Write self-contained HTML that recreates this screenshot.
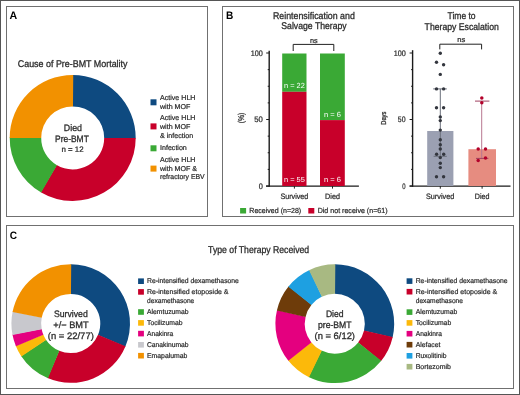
<!DOCTYPE html>
<html><head><meta charset="utf-8"><style>
html,body{margin:0;padding:0;background:#fff;}
body{width:520px;height:395px;overflow:hidden;}
svg{display:block;font-family:"Liberation Sans", sans-serif;will-change:transform;text-rendering:geometricPrecision;}
</style></head><body>
<svg width="520" height="395" viewBox="0 0 520 395">
<rect width="520" height="395" fill="#fff"/>
<rect x="0.5" y="0.5" width="519" height="394" fill="none" stroke="#555" stroke-width="1"/>
<rect x="6.5" y="6.5" width="201" height="210" fill="none" stroke="#707070" stroke-width="1"/>
<rect x="222.5" y="6.5" width="291" height="210" fill="none" stroke="#707070" stroke-width="1"/>
<rect x="6.5" y="225.5" width="507" height="163" fill="none" stroke="#707070" stroke-width="1"/>
<text x="9.60" y="18.80" font-size="10.8" fill="#000" font-weight="bold" textLength="7.70" lengthAdjust="spacingAndGlyphs">A</text>
<text x="226.00" y="19.10" font-size="10.8" fill="#000" font-weight="bold" textLength="7.30" lengthAdjust="spacingAndGlyphs">B</text>
<text x="9.80" y="239.10" font-size="10.8" fill="#000" font-weight="bold" textLength="7.30" lengthAdjust="spacingAndGlyphs">C</text>
<text x="17.75" y="66.50" font-size="9.7" fill="#2b2b2b" font-weight="normal" textLength="109.75" lengthAdjust="spacingAndGlyphs" stroke="#2b2b2b" stroke-width="0.301">Cause of Pre-BMT Mortality</text>
<path d="M72.70,74.90 A63,63 0 0 1 135.70,138.45 L104.20,138.17 A31.5,31.5 0 0 0 72.70,106.40 Z" fill="#0e4a80"/>
<path d="M135.70,137.90 A63,63 0 0 1 40.73,192.18 L56.71,165.04 A31.5,31.5 0 0 0 104.20,137.90 Z" fill="#c8002a"/>
<path d="M41.20,192.46 A63,63 0 0 1 9.70,137.35 L41.20,137.63 A31.5,31.5 0 0 0 56.95,165.18 Z" fill="#3aa935"/>
<path d="M9.70,137.90 A63,63 0 0 1 73.25,74.90 L72.97,106.40 A31.5,31.5 0 0 0 41.20,137.90 Z" fill="#f29100"/>
<text x="63.80" y="130.70" font-size="9.4" fill="#2b2b2b" font-weight="normal" textLength="18.20" lengthAdjust="spacingAndGlyphs" stroke="#2b2b2b" stroke-width="0.291">Died</text>
<text x="55.00" y="141.90" font-size="9.4" fill="#2b2b2b" font-weight="normal" textLength="33.80" lengthAdjust="spacingAndGlyphs" stroke="#2b2b2b" stroke-width="0.291">Pre-BMT</text>
<text x="61.50" y="151.90" font-size="8" fill="#2b2b2b" font-weight="normal" textLength="22.10" lengthAdjust="spacingAndGlyphs" stroke="#2b2b2b" stroke-width="0.248">n = 12</text>
<rect x="150.5" y="99.3" width="6" height="6" fill="#0e4a80"/>
<text x="160.00" y="100.20" font-size="7.1" text-anchor="start" fill="#2b2b2b" font-weight="normal" stroke="#2b2b2b" stroke-width="0.22">Active HLH</text>
<text x="160.00" y="108.70" font-size="7.1" text-anchor="start" fill="#2b2b2b" font-weight="normal" stroke="#2b2b2b" stroke-width="0.22">with MOF</text>
<rect x="150.5" y="123.4" width="6" height="6" fill="#c8002a"/>
<text x="160.00" y="120.30" font-size="7.1" text-anchor="start" fill="#2b2b2b" font-weight="normal" stroke="#2b2b2b" stroke-width="0.22">Active HLH</text>
<text x="160.00" y="129.00" font-size="7.1" text-anchor="start" fill="#2b2b2b" font-weight="normal" stroke="#2b2b2b" stroke-width="0.22">with MOF</text>
<text x="160.00" y="137.60" font-size="7.1" text-anchor="start" fill="#2b2b2b" font-weight="normal" stroke="#2b2b2b" stroke-width="0.22">&amp; infection</text>
<rect x="150.5" y="145.3" width="6" height="6" fill="#3aa935"/>
<text x="160.00" y="150.00" font-size="7.1" text-anchor="start" fill="#2b2b2b" font-weight="normal" stroke="#2b2b2b" stroke-width="0.22">Infection</text>
<rect x="150.5" y="165.6" width="6" height="6" fill="#f29100"/>
<text x="160.00" y="162.00" font-size="7.1" text-anchor="start" fill="#2b2b2b" font-weight="normal" stroke="#2b2b2b" stroke-width="0.22">Active HLH</text>
<text x="160.00" y="170.60" font-size="7.1" text-anchor="start" fill="#2b2b2b" font-weight="normal" stroke="#2b2b2b" stroke-width="0.22">with MOF &amp;</text>
<text x="160.00" y="179.20" font-size="7.1" fill="#2b2b2b" font-weight="normal" textLength="44.70" lengthAdjust="spacingAndGlyphs" stroke="#2b2b2b" stroke-width="0.22">refractory EBV</text>
<text x="273.00" y="18.85" font-size="9.7" fill="#2b2b2b" font-weight="normal" textLength="81.80" lengthAdjust="spacingAndGlyphs" stroke="#2b2b2b" stroke-width="0.301">Reintensification and</text>
<text x="281.30" y="29.30" font-size="9.7" fill="#2b2b2b" font-weight="normal" textLength="65.40" lengthAdjust="spacingAndGlyphs" stroke="#2b2b2b" stroke-width="0.301">Salvage Therapy</text>
<text x="447.50" y="18.90" font-size="9.7" fill="#2b2b2b" font-weight="normal" textLength="28.10" lengthAdjust="spacingAndGlyphs" stroke="#2b2b2b" stroke-width="0.301">Time to</text>
<text x="424.60" y="29.70" font-size="9.7" fill="#2b2b2b" font-weight="normal" textLength="74.20" lengthAdjust="spacingAndGlyphs" stroke="#2b2b2b" stroke-width="0.301">Therapy Escalation</text>
<line x1="269.2" y1="50.8" x2="269.2" y2="186.8" stroke="#1a1a1a" stroke-width="1.4"/>
<line x1="266.2" y1="53.0" x2="269.2" y2="53.0" stroke="#1a1a1a" stroke-width="1"/>
<line x1="267.7" y1="69.625" x2="269.2" y2="69.625" stroke="#1a1a1a" stroke-width="1"/>
<line x1="267.7" y1="86.25" x2="269.2" y2="86.25" stroke="#1a1a1a" stroke-width="1"/>
<line x1="267.7" y1="102.875" x2="269.2" y2="102.875" stroke="#1a1a1a" stroke-width="1"/>
<line x1="266.2" y1="119.5" x2="269.2" y2="119.5" stroke="#1a1a1a" stroke-width="1"/>
<line x1="267.7" y1="136.125" x2="269.2" y2="136.125" stroke="#1a1a1a" stroke-width="1"/>
<line x1="267.7" y1="152.75" x2="269.2" y2="152.75" stroke="#1a1a1a" stroke-width="1"/>
<line x1="267.7" y1="169.375" x2="269.2" y2="169.375" stroke="#1a1a1a" stroke-width="1"/>
<line x1="266.2" y1="186.0" x2="269.2" y2="186.0" stroke="#1a1a1a" stroke-width="1"/>
<line x1="266" y1="186.1" x2="358.9" y2="186.1" stroke="#1a1a1a" stroke-width="1.4"/>
<text x="250.80" y="55.60" font-size="8" fill="#2b2b2b" font-weight="normal" textLength="12.10" lengthAdjust="spacingAndGlyphs" stroke="#2b2b2b" stroke-width="0.248">100</text>
<text x="254.30" y="122.00" font-size="8" fill="#2b2b2b" font-weight="normal" textLength="8.60" lengthAdjust="spacingAndGlyphs" stroke="#2b2b2b" stroke-width="0.248">50</text>
<text x="258.70" y="188.80" font-size="8" fill="#2b2b2b" font-weight="normal" textLength="4.10" lengthAdjust="spacingAndGlyphs" stroke="#2b2b2b" stroke-width="0.248">0</text>
<text transform="translate(244.3,118) rotate(-90)" font-size="8.5" text-anchor="middle" fill="#2b2b2b" stroke="#2b2b2b" stroke-width="0.3" textLength="10.6" lengthAdjust="spacingAndGlyphs">(%)</text>
<rect x="282.2" y="53.5" width="24.3" height="38.3" fill="#3aa935"/>
<rect x="282.2" y="91.8" width="24.3" height="94.2" fill="#c8002a"/>
<rect x="320" y="53.5" width="24.8" height="66.6" fill="#3aa935"/>
<rect x="320" y="120.1" width="24.8" height="65.9" fill="#c8002a"/>
<text x="284.00" y="88.00" font-size="7.4" fill="#fff" font-weight="normal" textLength="20.80" lengthAdjust="spacingAndGlyphs">n = 22</text>
<text x="284.00" y="181.90" font-size="7.4" fill="#fff" font-weight="normal" textLength="20.80" lengthAdjust="spacingAndGlyphs">n = 55</text>
<text x="324.00" y="116.80" font-size="7.4" fill="#fff" font-weight="normal" textLength="17.00" lengthAdjust="spacingAndGlyphs">n = 6</text>
<text x="324.00" y="181.90" font-size="7.4" fill="#fff" font-weight="normal" textLength="17.00" lengthAdjust="spacingAndGlyphs">n = 6</text>
<line x1="294.4" y1="186" x2="294.4" y2="188.6" stroke="#222" stroke-width="1"/>
<line x1="332.5" y1="186" x2="332.5" y2="188.6" stroke="#222" stroke-width="1"/>
<text x="280.40" y="198.60" font-size="7.8" fill="#2b2b2b" font-weight="normal" textLength="27.90" lengthAdjust="spacingAndGlyphs" stroke="#2b2b2b" stroke-width="0.242">Survived</text>
<text x="325.10" y="198.60" font-size="7.8" fill="#2b2b2b" font-weight="normal" textLength="14.80" lengthAdjust="spacingAndGlyphs" stroke="#2b2b2b" stroke-width="0.242">Died</text>
<path d="M293.2,51 V44.4 H333.8 V51" fill="none" stroke="#222" stroke-width="1"/>
<text x="310.00" y="42.50" font-size="7.2" fill="#2b2b2b" font-weight="normal" textLength="7.70" lengthAdjust="spacingAndGlyphs" stroke="#2b2b2b" stroke-width="0.223">ns</text>
<line x1="412.6" y1="50.2" x2="412.6" y2="186.8" stroke="#1a1a1a" stroke-width="1.4"/>
<line x1="409.6" y1="53.0" x2="412.6" y2="53.0" stroke="#1a1a1a" stroke-width="1"/>
<line x1="411.1" y1="69.625" x2="412.6" y2="69.625" stroke="#1a1a1a" stroke-width="1"/>
<line x1="411.1" y1="86.25" x2="412.6" y2="86.25" stroke="#1a1a1a" stroke-width="1"/>
<line x1="411.1" y1="102.875" x2="412.6" y2="102.875" stroke="#1a1a1a" stroke-width="1"/>
<line x1="409.6" y1="119.5" x2="412.6" y2="119.5" stroke="#1a1a1a" stroke-width="1"/>
<line x1="411.1" y1="136.125" x2="412.6" y2="136.125" stroke="#1a1a1a" stroke-width="1"/>
<line x1="411.1" y1="152.75" x2="412.6" y2="152.75" stroke="#1a1a1a" stroke-width="1"/>
<line x1="411.1" y1="169.375" x2="412.6" y2="169.375" stroke="#1a1a1a" stroke-width="1"/>
<line x1="409.6" y1="186.0" x2="412.6" y2="186.0" stroke="#1a1a1a" stroke-width="1"/>
<line x1="409.6" y1="186.1" x2="510.5" y2="186.1" stroke="#1a1a1a" stroke-width="1.4"/>
<text x="393.70" y="55.60" font-size="8" fill="#2b2b2b" font-weight="normal" textLength="12.10" lengthAdjust="spacingAndGlyphs" stroke="#2b2b2b" stroke-width="0.248">100</text>
<text x="397.80" y="122.00" font-size="8" fill="#2b2b2b" font-weight="normal" textLength="7.70" lengthAdjust="spacingAndGlyphs" stroke="#2b2b2b" stroke-width="0.248">50</text>
<text x="402.20" y="188.80" font-size="8" fill="#2b2b2b" font-weight="normal" textLength="3.30" lengthAdjust="spacingAndGlyphs" stroke="#2b2b2b" stroke-width="0.248">0</text>
<text transform="translate(386.2,118.2) rotate(-90)" font-size="7.2" text-anchor="middle" fill="#2b2b2b" stroke="#2b2b2b" stroke-width="0.3" textLength="13.2" lengthAdjust="spacingAndGlyphs">Days</text>
<rect x="427.2" y="131" width="26.2" height="55" fill="#9ba0b2"/>
<rect x="468.4" y="149.2" width="27.6" height="36.8" fill="#e68c80"/>
<line x1="440.3" y1="186" x2="440.3" y2="188.7" stroke="#222" stroke-width="1"/>
<line x1="482.1" y1="186" x2="482.1" y2="188.7" stroke="#222" stroke-width="1"/>
<text x="426.00" y="198.60" font-size="7.8" fill="#2b2b2b" font-weight="normal" textLength="28.20" lengthAdjust="spacingAndGlyphs" stroke="#2b2b2b" stroke-width="0.242">Survived</text>
<text x="474.80" y="198.50" font-size="7.8" fill="#2b2b2b" font-weight="normal" textLength="14.70" lengthAdjust="spacingAndGlyphs" stroke="#2b2b2b" stroke-width="0.242">Died</text>
<line x1="440.3" y1="88.9" x2="440.3" y2="156.3" stroke="#6a6e7a" stroke-width="1"/>
<line x1="433.2" y1="88.9" x2="446.8" y2="88.9" stroke="#6a6e7a" stroke-width="1"/>
<line x1="433.6" y1="156.3" x2="446.8" y2="156.3" stroke="#6a6e7a" stroke-width="1"/>
<circle cx="440.3" cy="53.2" r="1.7" fill="#33363e"/>
<circle cx="436.5" cy="62.3" r="1.7" fill="#33363e"/>
<circle cx="443.6" cy="64.8" r="1.7" fill="#33363e"/>
<circle cx="440.3" cy="74.4" r="1.7" fill="#33363e"/>
<circle cx="436.5" cy="88.9" r="1.7" fill="#33363e"/>
<circle cx="443.6" cy="88.9" r="1.7" fill="#33363e"/>
<circle cx="436.5" cy="107.7" r="1.7" fill="#33363e"/>
<circle cx="443.6" cy="107.7" r="1.7" fill="#33363e"/>
<circle cx="440.3" cy="116.9" r="1.7" fill="#33363e"/>
<circle cx="440.3" cy="120.6" r="1.7" fill="#33363e"/>
<circle cx="440.3" cy="130.1" r="1.7" fill="#33363e"/>
<circle cx="440.3" cy="139.7" r="1.7" fill="#33363e"/>
<circle cx="440.3" cy="144.8" r="1.7" fill="#33363e"/>
<circle cx="440.3" cy="149" r="1.7" fill="#33363e"/>
<circle cx="436.6" cy="154.3" r="1.7" fill="#33363e"/>
<circle cx="443.7" cy="154.3" r="1.7" fill="#33363e"/>
<circle cx="440.3" cy="157.6" r="1.7" fill="#33363e"/>
<circle cx="440.3" cy="163.3" r="1.7" fill="#33363e"/>
<circle cx="440.3" cy="167.6" r="1.7" fill="#33363e"/>
<circle cx="436.5" cy="176.7" r="1.7" fill="#33363e"/>
<circle cx="443.6" cy="176.7" r="1.7" fill="#33363e"/>
<line x1="481.7" y1="101.1" x2="481.7" y2="158.4" stroke="#b87890" stroke-width="1"/>
<line x1="475" y1="101.1" x2="489.4" y2="101.1" stroke="#a04060" stroke-width="1"/>
<line x1="476" y1="158.4" x2="488.4" y2="158.4" stroke="#a04060" stroke-width="1"/>
<circle cx="481.8" cy="97.9" r="1.75" fill="#b3002a"/>
<circle cx="481.8" cy="102.7" r="1.75" fill="#b3002a"/>
<circle cx="478.2" cy="149" r="1.75" fill="#b3002a"/>
<circle cx="485.5" cy="149" r="1.75" fill="#b3002a"/>
<circle cx="485.5" cy="158" r="1.75" fill="#b3002a"/>
<circle cx="478.2" cy="160.6" r="1.75" fill="#b3002a"/>
<path d="M439.8,49.4 V44.2 H481.6 V49.4" fill="none" stroke="#222" stroke-width="1"/>
<text x="457.20" y="42.00" font-size="7.2" fill="#2b2b2b" font-weight="normal" textLength="8.00" lengthAdjust="spacingAndGlyphs" stroke="#2b2b2b" stroke-width="0.223">ns</text>
<rect x="240.1" y="208" width="6" height="5.5" fill="#3aa935"/>
<text x="249.30" y="212.80" font-size="7.3" fill="#2b2b2b" font-weight="normal" textLength="51.90" lengthAdjust="spacingAndGlyphs" stroke="#2b2b2b" stroke-width="0.226">Received (n=28)</text>
<rect x="308.3" y="208" width="6" height="5.5" fill="#c8002a"/>
<text x="317.70" y="212.80" font-size="7.3" fill="#2b2b2b" font-weight="normal" textLength="69.80" lengthAdjust="spacingAndGlyphs" stroke="#2b2b2b" stroke-width="0.226">Did not receive (n=61)</text>
<text x="208.10" y="252.90" font-size="9.9" fill="#2b2b2b" font-weight="normal" textLength="101.10" lengthAdjust="spacingAndGlyphs" stroke="#2b2b2b" stroke-width="0.307">Type of Therapy Received</text>
<path d="M70.70,264.20 A59.3,59.3 0 0 1 125.29,346.67 L97.95,335.07 A29.6,29.6 0 0 0 70.70,293.90 Z" fill="#0e4a80"/>
<path d="M125.49,346.19 A59.3,59.3 0 0 1 47.53,378.09 L59.13,350.75 A29.6,29.6 0 0 0 98.05,334.83 Z" fill="#c8002a"/>
<path d="M48.01,378.29 A59.3,59.3 0 0 1 21.11,356.01 L45.95,339.73 A29.6,29.6 0 0 0 59.37,350.85 Z" fill="#3aa935"/>
<path d="M21.39,356.45 A59.3,59.3 0 0 1 15.72,345.71 L43.26,334.59 A29.6,29.6 0 0 0 46.09,339.94 Z" fill="#fcb90a"/>
<path d="M15.91,346.19 A59.3,59.3 0 0 1 12.44,334.56 L41.62,329.02 A29.6,29.6 0 0 0 43.35,334.83 Z" fill="#e4007f"/>
<path d="M12.54,335.07 A59.3,59.3 0 0 1 12.64,311.42 L41.72,317.47 A29.6,29.6 0 0 0 41.67,329.27 Z" fill="#c8c8cd"/>
<path d="M12.54,311.93 A59.3,59.3 0 0 1 71.22,264.20 L70.96,293.90 A29.6,29.6 0 0 0 41.67,317.73 Z" fill="#f29100"/>
<text x="53.90" y="316.90" font-size="9.3" fill="#2b2b2b" font-weight="normal" textLength="33.90" lengthAdjust="spacingAndGlyphs" stroke="#2b2b2b" stroke-width="0.288">Survived</text>
<text x="53.30" y="327.90" font-size="9.3" fill="#2b2b2b" font-weight="normal" textLength="35.40" lengthAdjust="spacingAndGlyphs" stroke="#2b2b2b" stroke-width="0.288">+/− BMT</text>
<text x="47.80" y="338.60" font-size="9.3" fill="#2b2b2b" font-weight="normal" textLength="46.00" lengthAdjust="spacingAndGlyphs" stroke="#2b2b2b" stroke-width="0.288">(n = 22/77)</text>
<path d="M334.80,264.30 A59.4,59.4 0 0 1 392.59,337.42 L363.99,330.63 A30,30 0 0 0 334.80,293.70 Z" fill="#0e4a80"/>
<path d="M392.71,336.92 A59.4,59.4 0 0 1 380.92,361.14 L358.09,342.61 A30,30 0 0 0 364.05,330.38 Z" fill="#c8002a"/>
<path d="M381.24,360.74 A59.4,59.4 0 0 1 308.56,376.99 L321.55,350.61 A30,30 0 0 0 358.25,342.40 Z" fill="#3aa935"/>
<path d="M309.03,377.22 A59.4,59.4 0 0 1 288.04,360.33 L311.18,342.20 A30,30 0 0 0 321.78,350.73 Z" fill="#fcb90a"/>
<path d="M288.36,360.74 A59.4,59.4 0 0 1 277.01,309.98 L305.61,316.77 A30,30 0 0 0 311.35,342.40 Z" fill="#e4007f"/>
<path d="M276.89,310.48 A59.4,59.4 0 0 1 288.68,286.26 L311.51,304.79 A30,30 0 0 0 305.55,317.02 Z" fill="#6e3c0a"/>
<path d="M288.36,286.66 A59.4,59.4 0 0 1 309.50,269.96 L322.02,296.56 A30,30 0 0 0 311.35,305.00 Z" fill="#1ea0e1"/>
<path d="M309.03,270.18 A59.4,59.4 0 0 1 335.32,264.30 L335.06,293.70 A30,30 0 0 0 321.78,296.67 Z" fill="#a8b982"/>
<text x="325.90" y="316.90" font-size="9.3" fill="#2b2b2b" font-weight="normal" textLength="17.70" lengthAdjust="spacingAndGlyphs" stroke="#2b2b2b" stroke-width="0.288">Died</text>
<text x="318.00" y="327.90" font-size="9.3" fill="#2b2b2b" font-weight="normal" textLength="33.60" lengthAdjust="spacingAndGlyphs" stroke="#2b2b2b" stroke-width="0.288">pre-BMT</text>
<text x="314.50" y="338.60" font-size="9.3" fill="#2b2b2b" font-weight="normal" textLength="40.50" lengthAdjust="spacingAndGlyphs" stroke="#2b2b2b" stroke-width="0.288">(n = 6/12)</text>
<rect x="138.1" y="278.4" width="5.8" height="5.6" fill="#0e4a80"/>
<text x="147.00" y="283.30" font-size="7.0" fill="#2b2b2b" font-weight="normal" textLength="91.90" lengthAdjust="spacingAndGlyphs" stroke="#2b2b2b" stroke-width="0.217">Re-intensified dexamethasone</text>
<rect x="138.1" y="289.1" width="5.8" height="5.6" fill="#c8002a"/>
<text x="147.00" y="294.00" font-size="7.0" fill="#2b2b2b" font-weight="normal" textLength="81.50" lengthAdjust="spacingAndGlyphs" stroke="#2b2b2b" stroke-width="0.217">Re-intensified etoposide &amp;</text>
<text x="147.00" y="303.40" font-size="7.0" fill="#2b2b2b" font-weight="normal" textLength="47.30" lengthAdjust="spacingAndGlyphs" stroke="#2b2b2b" stroke-width="0.217">dexamethasone</text>
<rect x="138.1" y="309.2" width="5.8" height="5.6" fill="#3aa935"/>
<text x="147.00" y="314.10" font-size="7.0" fill="#2b2b2b" font-weight="normal" textLength="41.60" lengthAdjust="spacingAndGlyphs" stroke="#2b2b2b" stroke-width="0.217">Alemtuzumab</text>
<rect x="138.1" y="320.1" width="5.8" height="5.6" fill="#fcb90a"/>
<text x="147.00" y="325.00" font-size="7.0" fill="#2b2b2b" font-weight="normal" textLength="35.50" lengthAdjust="spacingAndGlyphs" stroke="#2b2b2b" stroke-width="0.217">Tocilizumab</text>
<rect x="138.1" y="330.8" width="5.8" height="5.6" fill="#e4007f"/>
<text x="147.00" y="335.70" font-size="7.0" fill="#2b2b2b" font-weight="normal" textLength="26.29" lengthAdjust="spacingAndGlyphs" stroke="#2b2b2b" stroke-width="0.217">Anakinra</text>
<rect x="138.1" y="342.0" width="5.8" height="5.6" fill="#c8c8cd"/>
<text x="147.00" y="346.90" font-size="7.0" fill="#2b2b2b" font-weight="normal" textLength="41.60" lengthAdjust="spacingAndGlyphs" stroke="#2b2b2b" stroke-width="0.217">Canakinumab</text>
<rect x="138.1" y="352.9" width="5.8" height="5.6" fill="#f29100"/>
<text x="147.00" y="357.80" font-size="7.0" fill="#2b2b2b" font-weight="normal" textLength="40.40" lengthAdjust="spacingAndGlyphs" stroke="#2b2b2b" stroke-width="0.217">Emapalumab</text>
<rect x="406.6" y="278.3" width="5.8" height="5.6" fill="#0e4a80"/>
<text x="415.70" y="283.20" font-size="7.0" fill="#2b2b2b" font-weight="normal" textLength="91.90" lengthAdjust="spacingAndGlyphs" stroke="#2b2b2b" stroke-width="0.217">Re-intensified dexamethasone</text>
<rect x="406.6" y="288.9" width="5.8" height="5.6" fill="#c8002a"/>
<text x="415.70" y="293.80" font-size="7.0" fill="#2b2b2b" font-weight="normal" textLength="81.50" lengthAdjust="spacingAndGlyphs" stroke="#2b2b2b" stroke-width="0.217">Re-intensified etoposide &amp;</text>
<text x="415.70" y="303.20" font-size="7.0" fill="#2b2b2b" font-weight="normal" textLength="47.30" lengthAdjust="spacingAndGlyphs" stroke="#2b2b2b" stroke-width="0.217">dexamethasone</text>
<rect x="406.6" y="309.3" width="5.8" height="5.6" fill="#3aa935"/>
<text x="415.70" y="314.20" font-size="7.0" fill="#2b2b2b" font-weight="normal" textLength="41.60" lengthAdjust="spacingAndGlyphs" stroke="#2b2b2b" stroke-width="0.217">Alemtuzumab</text>
<rect x="406.6" y="320.1" width="5.8" height="5.6" fill="#fcb90a"/>
<text x="415.70" y="325.00" font-size="7.0" fill="#2b2b2b" font-weight="normal" textLength="35.50" lengthAdjust="spacingAndGlyphs" stroke="#2b2b2b" stroke-width="0.217">Tocilizumab</text>
<rect x="406.6" y="330.9" width="5.8" height="5.6" fill="#e4007f"/>
<text x="415.70" y="335.80" font-size="7.0" fill="#2b2b2b" font-weight="normal" textLength="26.29" lengthAdjust="spacingAndGlyphs" stroke="#2b2b2b" stroke-width="0.217">Anakinra</text>
<rect x="406.6" y="341.9" width="5.8" height="5.6" fill="#6e3c0a"/>
<text x="415.70" y="346.80" font-size="7.0" fill="#2b2b2b" font-weight="normal" textLength="24.70" lengthAdjust="spacingAndGlyphs" stroke="#2b2b2b" stroke-width="0.217">Alefacet</text>
<rect x="406.6" y="353.0" width="5.8" height="5.6" fill="#1ea0e1"/>
<text x="415.70" y="357.90" font-size="7.0" fill="#2b2b2b" font-weight="normal" textLength="30.90" lengthAdjust="spacingAndGlyphs" stroke="#2b2b2b" stroke-width="0.217">Ruxolitinib</text>
<rect x="406.6" y="363.9" width="5.8" height="5.6" fill="#a8b982"/>
<text x="415.70" y="368.80" font-size="7.0" fill="#2b2b2b" font-weight="normal" textLength="35.20" lengthAdjust="spacingAndGlyphs" stroke="#2b2b2b" stroke-width="0.217">Bortezomib</text>
</svg>
</body></html>
